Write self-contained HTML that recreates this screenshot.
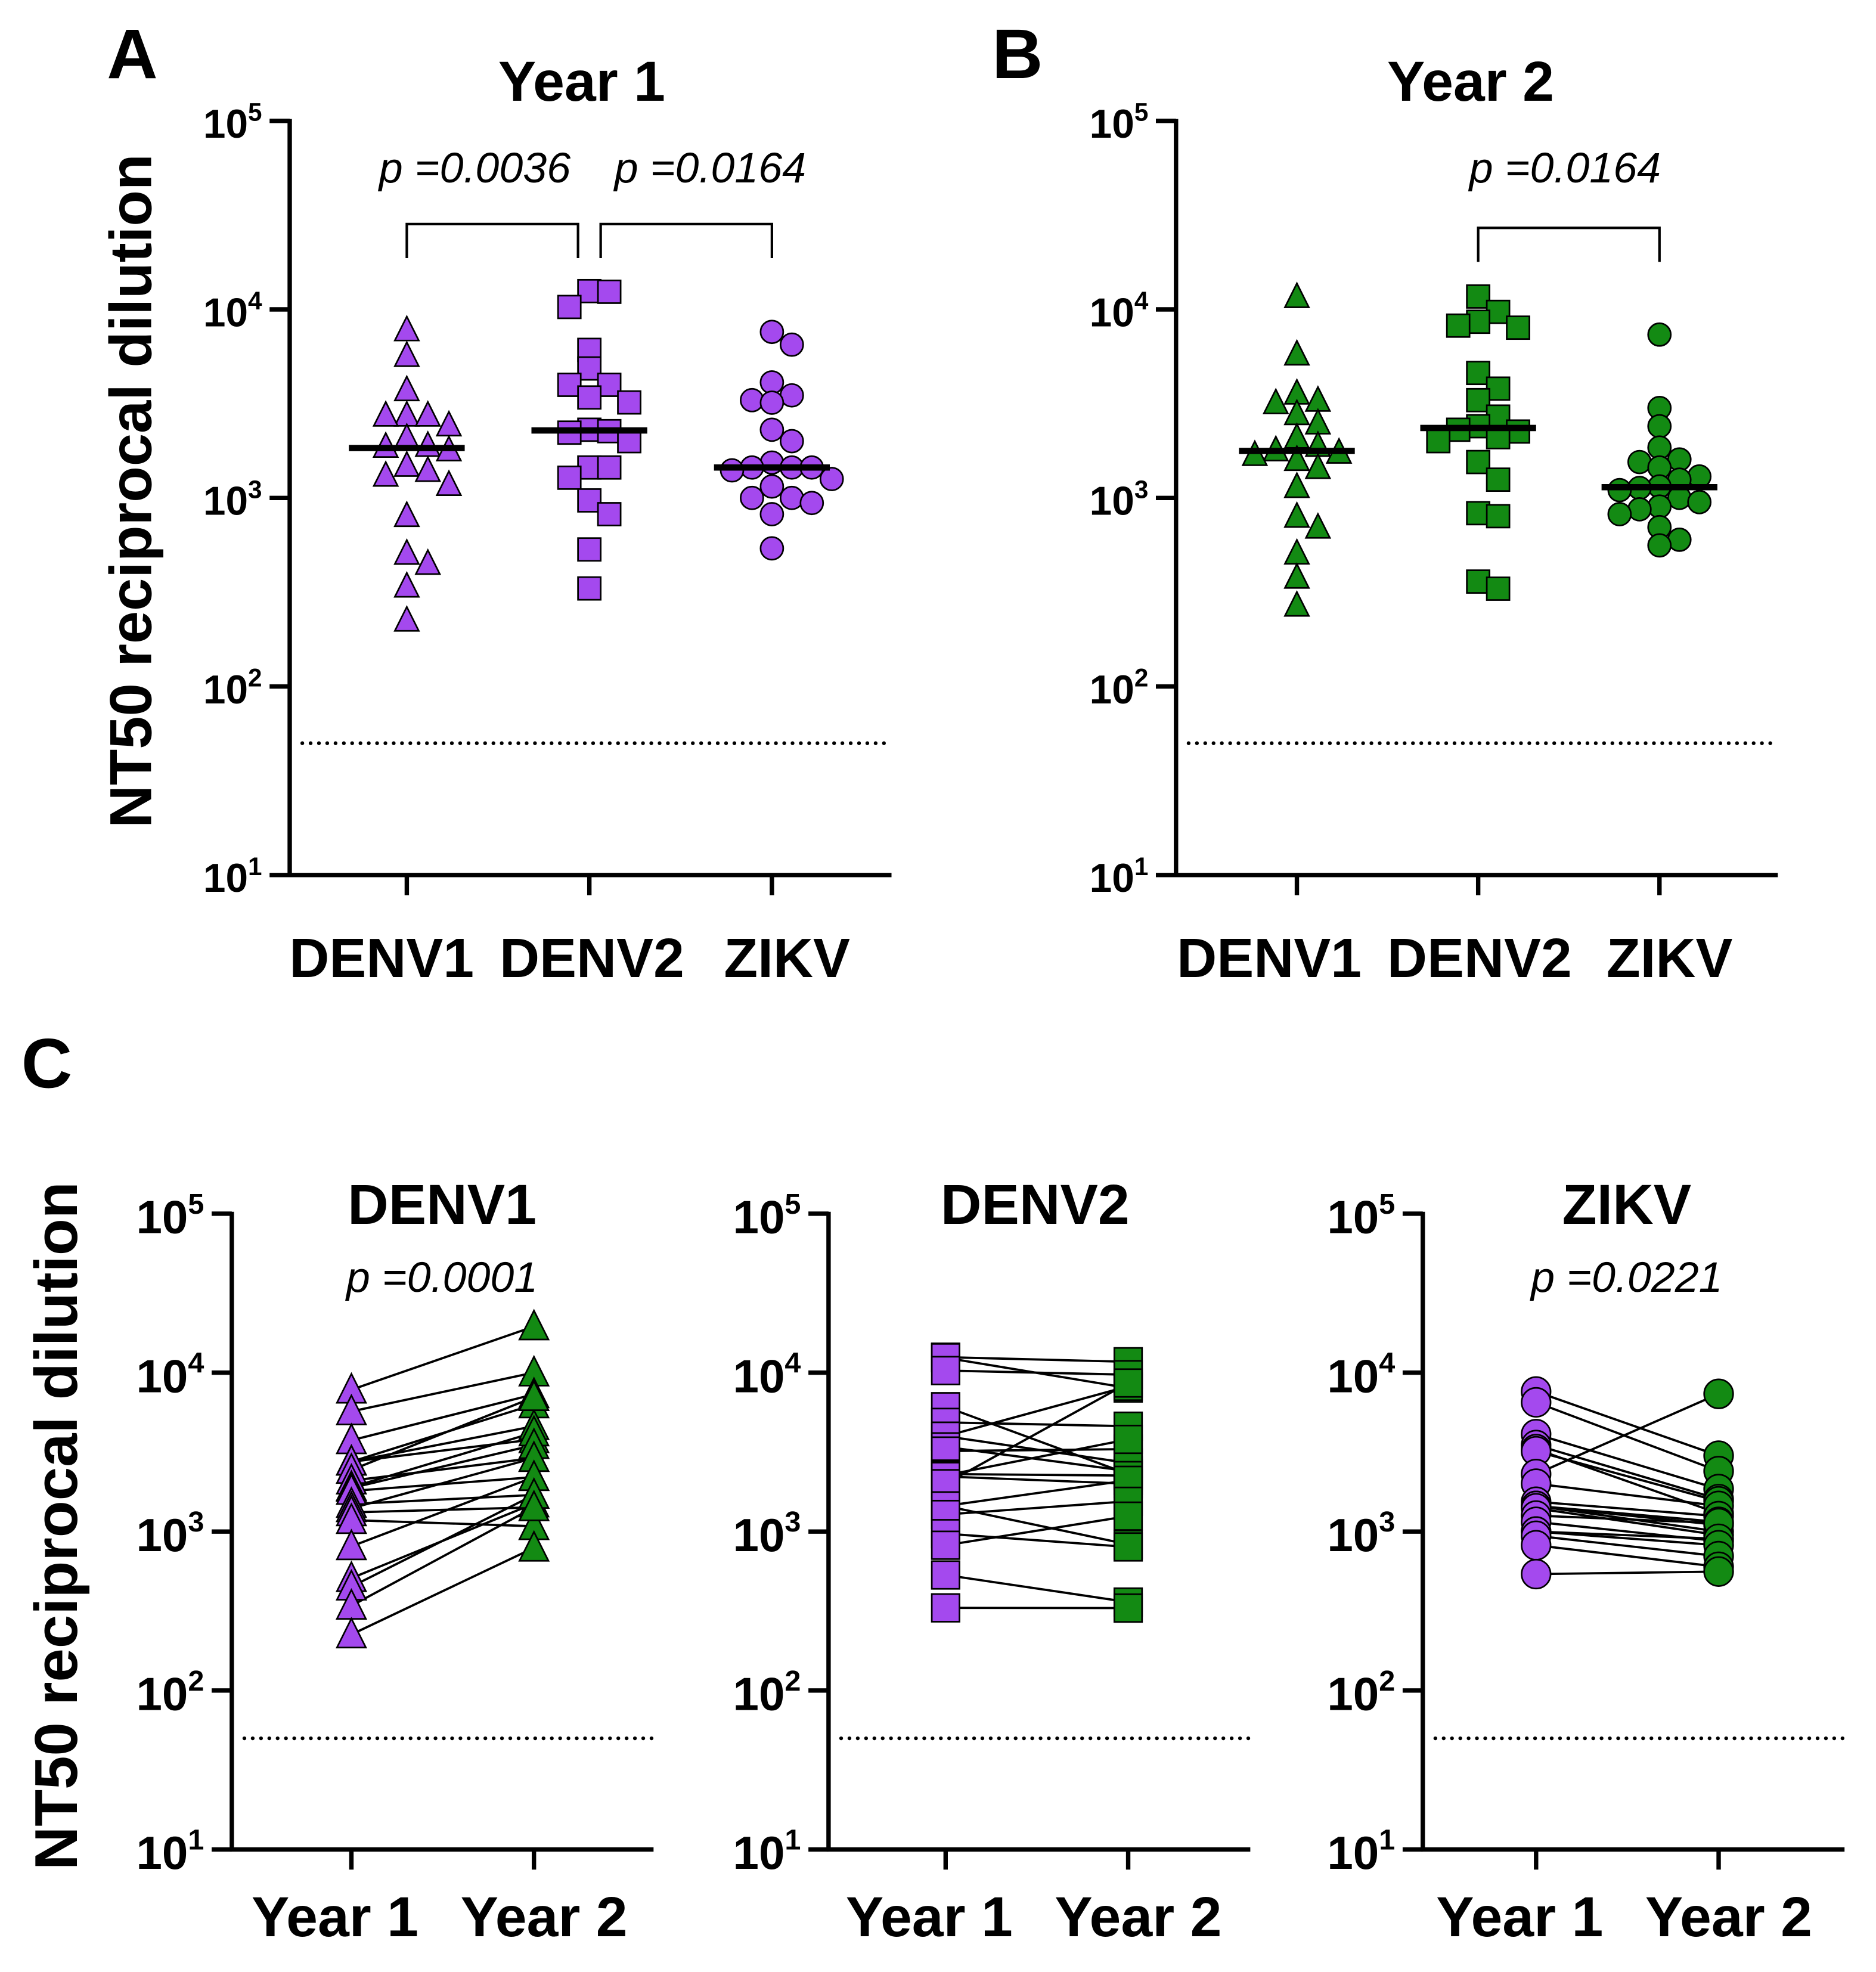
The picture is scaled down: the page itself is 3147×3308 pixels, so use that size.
<!DOCTYPE html>
<html><head><meta charset="utf-8">
<style>
html,body{margin:0;padding:0;background:#fff;}
svg{display:block;}
text{font-family:"Liberation Sans",Arial,sans-serif;}
</style></head>
<body>
<svg id="fig" width="3147" height="3308" viewBox="0 0 1500 1577" xmlns="http://www.w3.org/2000/svg"><g id="root" transform="scale(1.0068)"></g></svg>
<script>
// ---------- data ----------
const groupNames = ["DENV1","DENV2","ZIKV"];
const yearLabels = ["Year 1","Year 2"];
const tickExponents = [1,2,3,4,5];
const lodValue = 50;
// Panel A (Year 1)
const y1Denv1 = [7800,5700,3750,2750,2750,2750,2440,2090,1900,1880,1800,1490,1400,1320,1180,807,509,450,341,225];
const y1Denv2 = [12500,12400,10300,6100,4860,3980,3980,3410,3210,2300,2260,2220,2000,1450,1450,1280,970,820,533,331];
const y1Zikv  = [7600,6500,4100,3500,3300,3200,2300,2000,1540,1450,1450,1450,1400,1260,1150,1000,1000,940,820,540];
// Panel B (Year 2)
const y2Denv1 = [11700,5800,3600,3300,3200,2800,2500,2100,1900,1800,1750,1700,1600,1450,1150,800,700,510,380,270];
const y2Denv2 = [11700,9700,8600,8200,8000,4600,3800,3300,2700,2400,2300,2250,2100,2000,1550,1250,830,800,360,330];
const y2Zikv  = [7350,3000,2400,1850,1600,1550,1450,1300,1250,1150,1130,1100,1000,950,900,870,820,700,600,560];
// Panel C paired (year1 / year2 per subject)
const pairDenv1Y1 = [7800,5700,3750,2750,2750,2750,2440,2090,1900,1880,1800,1490,1400,1320,1180,807,509,450,341,225];
const pairDenv1Y2 = [19500,10000,7300,6300,4600,3800,7000,2900,4200,3500,2200,1700,2900,1420,1080,2200,1500,1700,1420,790];
const pairDenv2Y1 = y1Denv2;
const pairDenv2Y2 = [11700,8000,9700,2300,4600,2700,8200,2400,3300,2250,3800,2000,8600,2100,830,1550,800,1250,360,330];
const pairZikvY1 = y1Zikv;
const pairZikvY2 = [3000,2400,1850,1600,1300,1550,7350,1450,1250,1150,1100,1000,950,1130,870,900,820,700,600,560];
const pValuesA = ["p =0.0036","p =0.0164"];
const pValuesB = ["p =0.0164"];
const pValuesC = ["p =0.0001","","p =0.0221"];

// ---------- helpers ----------
const svg = document.getElementById('root');
const NS = "http://www.w3.org/2000/svg";
const PURPLE = "#a449ee", GREEN = "#138a13";
function el(tag, attrs, parent){
  const e = document.createElementNS(NS, tag);
  for (const k in attrs) e.setAttribute(k, attrs[k]);
  (parent||svg).appendChild(e);
  return e;
}
function txt(str, x, y, size, opts, parent){
  const t = el('text', Object.assign({x:x, y:y, 'font-size':size, 'text-anchor':'middle', fill:'#000'}, opts||{}), parent);
  t.textContent = str;
  return t;
}
function makeAxis(x0, x1, yTop, yBot){
  const per = (yBot - yTop) / 4;
  return {x0, x1, yTop, yBot, y: v => yBot - (Math.log10(v) - 1) * per};
}
function marker(shape, cx, cy, s, color, g){
  let m;
  if (shape === 'tri'){
    m = el('polygon', {points:`${cx},${cy-s*0.55} ${cx-s/2},${cy+s*0.45} ${cx+s/2},${cy+s*0.45}`, fill:color, stroke:'#000', 'stroke-width':1.3}, g);
  } else if (shape === 'sq'){
    m = el('rect', {x:cx-s/2, y:cy-s/2, width:s, height:s, fill:color, stroke:'#000', 'stroke-width':1.3}, g);
  } else {
    m = el('circle', {cx:cx, cy:cy, r:s/2, fill:color, stroke:'#000', 'stroke-width':1.3}, g);
  }
  return m;
}
function drawYAxis(ax, fs, supfs, g){
  el('line', {x1:ax.x0, y1:ax.yTop-1.5, x2:ax.x0, y2:ax.yBot+1.5, stroke:'#000', 'stroke-width':3.5}, g);
  tickExponents.forEach(e => {
    const yy = ax.y(Math.pow(10, e));
    const tk = el('line', {x1:ax.x0-16, y1:yy, x2:ax.x0, y2:yy, stroke:'#000', 'stroke-width':3.5}, g);
    
    
    const t = el('text', {x:ax.x0-22, y:yy+fs*0.42, 'font-size':fs, 'font-weight':'bold', 'text-anchor':'end'}, g);
    
    
    const a = document.createElementNS(NS,'tspan'); a.textContent = '10'; t.appendChild(a);
    const b = document.createElementNS(NS,'tspan'); b.textContent = String(e);
    b.setAttribute('dy', -fs*0.42); b.setAttribute('font-size', supfs); t.appendChild(b);
  });
}
function drawXAxis(ax, xs, labels, labelXs, fs, labelY, g){
  el('line', {x1:ax.x0-1.5, y1:ax.yBot, x2:ax.x1, y2:ax.yBot, stroke:'#000', 'stroke-width':3.5}, g);
  xs.forEach((x,i) => {
    const tk = el('line', {x1:x, y1:ax.yBot, x2:x, y2:ax.yBot+16, stroke:'#000', 'stroke-width':3.5}, g);
    
    
    const t = txt(labels[i], labelXs[i], labelY, fs, {'font-weight':'bold'}, g);
    
    
  });
}
function lod(ax, g){
  const l = el('line', {x1:ax.x0+10, y1:ax.y(lodValue), x2:ax.x1, y2:ax.y(lodValue), stroke:'#000', 'stroke-width':3, 'stroke-dasharray':'0 6.6', 'stroke-linecap':'round'}, g);
  
  
}
function median(arr){
  const s = [...arr].sort((a,b)=>a-b); const n = s.length;
  return n%2 ? s[(n-1)/2] : Math.sqrt(s[n/2-1]*s[n/2]);
}
function swarm(values, ax, size){
  const placed = [];
  const order = values.map((v,i)=>i).sort((a,b)=>values[b]-values[a]);
  const res = new Array(values.length);
  order.forEach(i => {
    const yy = ax.y(values[i]);
    const cand = [0];
    for (let k=1;k<8;k++){ cand.push(k*size*0.88, -k*size*0.88); }
    let off = 0;
    for (const c of cand){
      if (placed.every(p => Math.hypot(p[0]-c, p[1]-yy) >= size*0.8)) { off = c; break; }
    }
    placed.push([off, yy]); res[i] = off;
  });
  return res;
}
function scatterGroup(values, ax, cx, shape, color, size, g){
  const offs = swarm(values, ax, size);
  values.forEach((v,i) => {
    const m = marker(shape, cx+offs[i], ax.y(v), size, color, g);
    
    
  });
  const md = el('line', {x1:cx-46, y1:ax.y(median(values)), x2:cx+46, y2:ax.y(median(values)), stroke:'#000', 'stroke-width':5}, g);
  
  
}
function bracket(xa, xb, yTop, yBot, label, lx, g){
  const b = el('path', {d:`M${xa},${yBot} V${yTop} H${xb} V${yBot}`, fill:'none', stroke:'#000', 'stroke-width':2}, g);
  
  
  const t = txt(label, lx, 145, 34, {'font-style':'italic'}, g);
  
  
}

// ---------- Panel A ----------
const gA = el('g', { });
const axA = makeAxis(230, 708, 96, 695);
const xsA = [323, 468, 613];
txt('A', 105, 62, 56, {'font-weight':'bold'}, gA);
txt('Year 1', 462, 80, 45, {'font-weight':'bold'}, gA);
const ylA = el('text', {x:0, y:0, 'font-size':47, 'font-weight':'bold', 'text-anchor':'middle', transform:'translate(120,390) rotate(-90)',  }, gA);
ylA.textContent = 'NT50 reciprocal dilution';
lod(axA, gA);
drawYAxis(axA, 32, 20, gA);
drawXAxis(axA, xsA, groupNames, [303,470,625], 44, 776, gA);
scatterGroup(y1Denv1, axA, xsA[0], 'tri', PURPLE, 19, gA);
scatterGroup(y1Denv2, axA, xsA[1], 'sq', PURPLE, 18, gA);
scatterGroup(y1Zikv, axA, xsA[2], 'circ', PURPLE, 18, gA);
bracket(323, 459, 178, 205, pValuesA[0], 377, gA);
bracket(477, 613, 178, 205, pValuesA[1], 564, gA);

// ---------- Panel B ----------
const gB = el('g', { });
const axB = makeAxis(934, 1412, 96, 695);
const xsB = [1030, 1174, 1318];
txt('B', 808, 62, 56, {'font-weight':'bold'}, gB);
txt('Year 2', 1168, 80, 45, {'font-weight':'bold'}, gB);
lod(axB, gB);
drawYAxis(axB, 32, 20, gB);
drawXAxis(axB, xsB, groupNames, [1008,1175,1326], 44, 776, gB);
scatterGroup(y2Denv1, axB, xsB[0], 'tri', GREEN, 19, gB);
scatterGroup(y2Denv2, axB, xsB[1], 'sq', GREEN, 18, gB);
scatterGroup(y2Zikv, axB, xsB[2], 'circ', GREEN, 18, gB);
bracket(1174, 1318, 181, 208, pValuesB[0], 1243, gB);

// ---------- Panel C ----------
const gC = el('g', { });
txt('C', 37, 864, 56, {'font-weight':'bold'}, gC);
const ylC = el('text', {x:0, y:0, 'font-size':48, 'font-weight':'bold', 'text-anchor':'middle', transform:'translate(61,1212) rotate(-90)',  }, gC);
ylC.textContent = 'NT50 reciprocal dilution';
const subs = [
  {x0:184, x1:519, xs:[279,424], shape:'tri', size:23, y1:pairDenv1Y1, y2:pairDenv1Y2, tx:351},
  {x0:658, x1:993, xs:[751,896], shape:'sq', size:22, y1:pairDenv2Y1, y2:pairDenv2Y2, tx:822},
  {x0:1130, x1:1465, xs:[1220,1365], shape:'circ', size:23, y1:pairZikvY1, y2:pairZikvY2, tx:1292}
];
subs.forEach((s, k) => {
  const g = el('g', { }, gC);
  const ax = makeAxis(s.x0, s.x1, 964, 1469);
  txt(groupNames[k], s.tx, 972, 45, {'font-weight':'bold'}, g);
  if (pValuesC[k]) {
    const p = txt(pValuesC[k], s.tx, 1026, 34, {'font-style':'italic'}, g);
    
    
  }
  lod(ax, g);
  drawYAxis(ax, 37, 23, g);
  drawXAxis(ax, s.xs, yearLabels, [s.xs[0]-13, s.xs[1]+8], 45, 1538, g);
  s.y1.forEach((v,i) => {
    const l = el('line', {x1:s.xs[0], y1:ax.y(v), x2:s.xs[1], y2:ax.y(s.y2[i]), stroke:'#000', 'stroke-width':1.8}, g);
    
    
  });
  s.y1.forEach(v => {
    const m = marker(s.shape, s.xs[0], ax.y(v), s.size, PURPLE, g);
    
    
  });
  s.y2.forEach(v => {
    const m = marker(s.shape, s.xs[1], ax.y(v), s.size, GREEN, g);
    
    
  });
});
</script>
</body></html>
